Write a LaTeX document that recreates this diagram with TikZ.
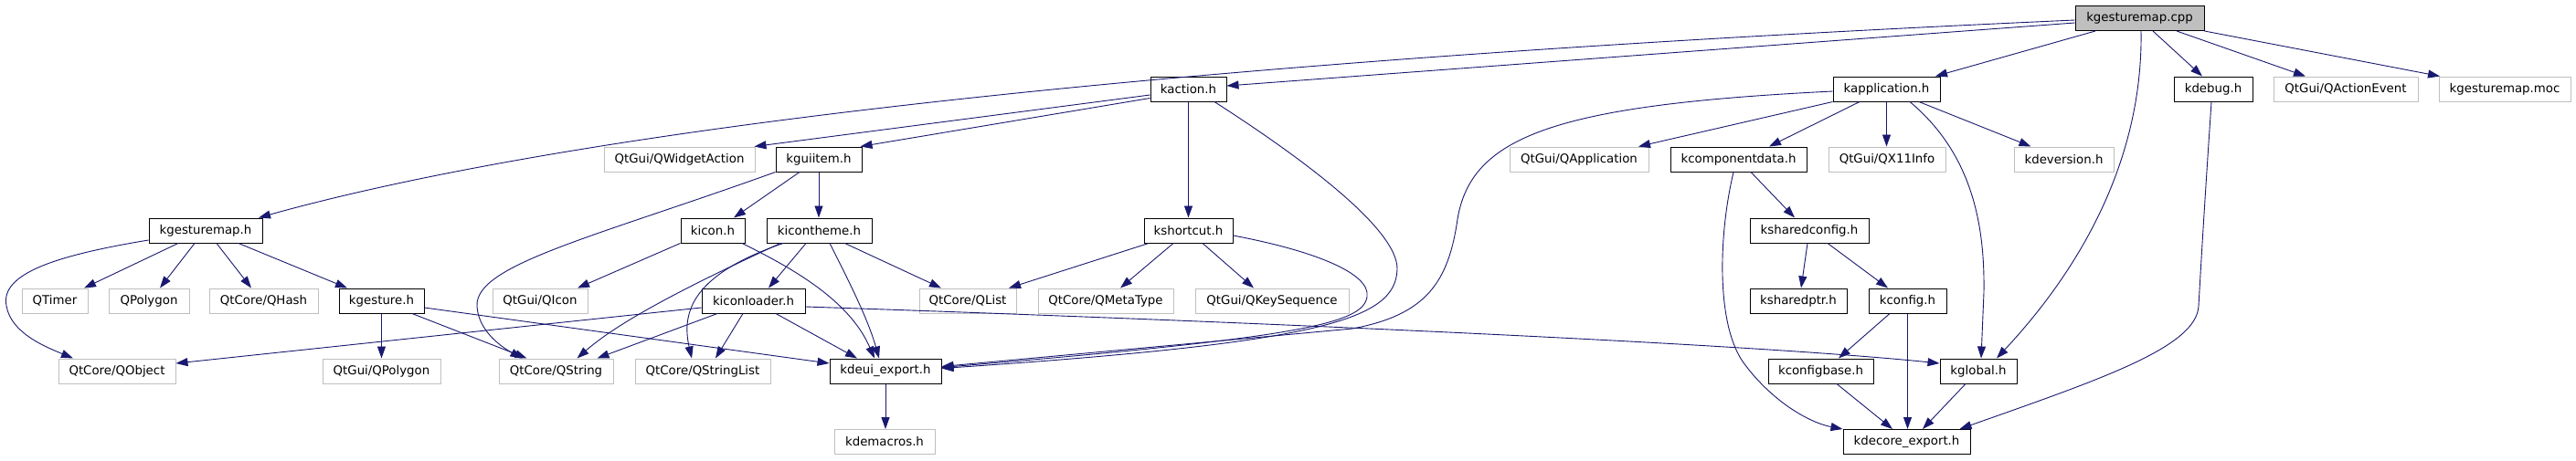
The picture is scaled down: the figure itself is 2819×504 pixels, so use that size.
\documentclass[tikz,border=0pt]{standalone}
\usepackage{fontspec}
\setmainfont{DejaVu Sans}
\usetikzlibrary{arrows.meta}
\definecolor{edgec}{HTML}{191970}
\definecolor{grayb}{HTML}{BFBFBF}
\begin{document}
\begin{tikzpicture}[x=1pt,y=-1pt,
  every node/.style={font=\fontsize{13.33pt}{16pt}\selectfont, inner sep=0pt, minimum height=27pt, anchor=center},
  hbox/.style={draw=black, line width=1pt, fill=white},
  extbox/.style={draw=grayb, line width=1pt, fill=white},
  rootbox/.style={draw=black, line width=1pt, fill=grayb},
  dep/.style={draw=edgec, line width=0.9pt, -{Triangle[length=13pt,width=9pt]}}]
\fill[white] (0,0) rectangle (2819,504);
\useasboundingbox (0,0) rectangle (2819,504);
% row 0
\node[rootbox, minimum width=141pt] (cpp) at (2341.5,20) {kgesturemap.cpp};
% row 1
\node[hbox, minimum width=83pt] (kaction) at (1300.5,97.5) {kaction.h};
\node[hbox, minimum width=117pt] (kapplication) at (2064.5,97.5) {kapplication.h};
\node[hbox, minimum width=86pt] (kdebug) at (2422,97.5) {kdebug.h};
\node[extbox, minimum width=158pt] (qae) at (2567,97.5) {QtGui/QActionEvent};
\node[extbox, minimum width=144pt] (moc) at (2741,97.5) {kgesturemap.moc};
% row 2
\node[extbox, minimum width=165pt] (qwa) at (743.5,174.5) {QtGui/QWidgetAction};
\node[hbox, minimum width=94pt] (kguiitem) at (896,174.5) {kguiitem.h};
\node[extbox, minimum width=152pt] (qapp) at (1728,174.5) {QtGui/QApplication};
\node[hbox, minimum width=149pt] (kcd) at (1902.5,174.5) {kcomponentdata.h};
\node[extbox, minimum width=128pt] (qx11) at (2065,174.5) {QtGui/QX11Info};
\node[extbox, minimum width=109pt] (kdeversion) at (2258.5,174.5) {kdeversion.h};
% row 3
\node[hbox, minimum width=124pt] (kgh) at (225,252.5) {kgesturemap.h};
\node[hbox, minimum width=70pt] (kicon) at (780,252.5) {kicon.h};
\node[hbox, minimum width=115pt] (kicontheme) at (896.5,252.5) {kicontheme.h};
\node[hbox, minimum width=97pt] (kshortcut) at (1300.5,252.5) {kshortcut.h};
\node[hbox, minimum width=130pt] (ksc) at (1980,252.5) {ksharedconfig.h};
% row 4
\node[extbox, minimum width=72pt] (qtimer) at (60,329.5) {QTimer};
\node[extbox, minimum width=88pt] (qpolygon) at (163,329.5) {QPolygon};
\node[extbox, minimum width=119pt] (qhash) at (288.5,329.5) {QtCore/QHash};
\node[hbox, minimum width=93pt] (kgesture) at (417.5,329.5) {kgesture.h};
\node[extbox, minimum width=104pt] (qicon) at (591,329.5) {QtGui/QIcon};
\node[hbox, minimum width=113pt] (kiconloader) at (824.5,329.5) {kiconloader.h};
\node[extbox, minimum width=106pt] (qlist) at (1059,329.5) {QtCore/QList};
\node[extbox, minimum width=148pt] (qmetatype) at (1210,329.5) {QtCore/QMetaType};
\node[extbox, minimum width=168pt] (qkeyseq) at (1392,329.5) {QtGui/QKeySequence};
\node[hbox, minimum width=106pt] (ksp) at (1968,329.5) {ksharedptr.h};
\node[hbox, minimum width=85pt] (kconfig) at (2087.5,329.5) {kconfig.h};
% row 5
\node[extbox, minimum width=128pt] (qobject) at (128,406.5) {QtCore/QObject};
\node[extbox, minimum width=129pt] (qtguipoly) at (417.5,406.5) {QtGui/QPolygon};
\node[extbox, minimum width=125pt] (qstring) at (608.5,406.5) {QtCore/QString};
\node[extbox, minimum width=148pt] (qstringlist) at (769,406.5) {QtCore/QStringList};
\node[hbox, minimum width=122pt] (kdeui) at (969,406.5) {kdeui\_export.h};
\node[hbox, minimum width=115pt] (kcb) at (1992.5,406.5) {kconfigbase.h};
\node[hbox, minimum width=84pt] (kglobal) at (2165,406.5) {kglobal.h};
% row 6
\node[extbox, minimum width=110pt] (kdemacros) at (968,484) {kdemacros.h};
\node[hbox, minimum width=139pt] (kdecore) at (2086.5,484) {kdecore\_export.h};

% edges from kgesturemap.cpp
\draw[dep] ([yshift=-2pt]cpp.west) .. controls (1200,70) and (600,150) .. ([xshift=58pt]kgh.north);
\draw[dep] ([yshift=-5pt]cpp.west) -- ([yshift=3.5pt]kaction.east);
\draw[dep] ([xshift=-48.5pt]cpp.south) -- ([xshift=53.5pt]kapplication.north);
\draw[dep] ([xshift=1.5pt]cpp.south) .. controls (2345,160) and (2290,280) .. ([xshift=20pt]kglobal.north);
\draw[dep] ([xshift=14.5pt]cpp.south) -- ([xshift=-12pt]kdebug.north);
\draw[dep] ([xshift=40.5pt]cpp.south) -- ([xshift=-44pt]qae.north);
\draw[dep] (cpp.south east) -- ([xshift=-71pt]moc.north);
% kaction.h
\draw[dep] ([yshift=-6.5pt]kaction.west) -- ([xshift=82pt]qwa.north);
\draw[dep] ([yshift=-10pt]kaction.west) -- ([xshift=-2pt]kguiitem.north east);
\draw[dep] (kaction.south) -- (kshortcut.north);
\draw[dep] ([xshift=28.5pt]kaction.south) .. controls (1420,170) and (1530,250) .. (1529,295)
   .. controls (1527,350) and (1450,375) .. ([yshift=3pt]kdeui.east);
% kshortcut.h
\draw[dep] ([yshift=-5.5pt]kshortcut.east) .. controls (1440,275) and (1500,300) .. (1496,325)
   .. controls (1492,355) and (1420,370) .. ([yshift=4pt]kdeui.east);
\draw[dep] ([xshift=-43.5pt]kshortcut.south) -- ([xshift=45pt]qlist.north);
\draw[dep] ([xshift=-16.5pt]kshortcut.south) -- ([xshift=16pt]qmetatype.north);
\draw[dep] ([xshift=15.5pt]kshortcut.south) -- ([xshift=-20pt]qkeyseq.north);
% kapplication.h
\draw[dep] ([yshift=-2.5pt]kapplication.west) .. controls (1700,115) and (1610,150) .. (1595,240)
   .. controls (1585,310) and (1560,345) .. (1480,360) -- ([yshift=5pt]kdeui.east);
\draw[dep] (kapplication.south west) -- ([xshift=65pt]qapp.north);
\draw[dep] ([xshift=-29.5pt]kapplication.south) -- ([xshift=33.5pt]kcd.north);
\draw[dep] (kapplication.south) -- (kapplication.south |- qx11.north);
\draw[dep] ([xshift=25.5pt]kapplication.south) .. controls (2160,170) and (2172,250) .. (2171,320) -- ([xshift=3pt]kglobal.north);
\draw[dep] ([xshift=35.5pt]kapplication.south) -- ([xshift=-36pt]kdeversion.north);
% kguiitem.h
\draw[dep] ([xshift=-21pt]kguiitem.south) -- ([xshift=23pt]kicon.north);
\draw[dep] (kguiitem.south) -- (kguiitem.south |- kicontheme.north);
\draw[dep] (kguiitem.south west) .. controls (650,260) and (520,290) .. (522,335)
   .. controls (523,360) and (545,378) .. ([xshift=-37pt]qstring.north);
% kicon.h
\draw[dep] (kicon.south west) -- ([xshift=41pt]qicon.north);
\draw[dep] ([xshift=32pt]kicon.south) .. controls (870,295) and (930,330) .. ([xshift=-12pt]kdeui.north);
% kicontheme.h
\draw[dep] ([xshift=-14.5pt]kicontheme.south) -- ([xshift=16.5pt]kiconloader.north);
\draw[dep] ([xshift=28pt]kicontheme.south) -- ([xshift=-29pt]qlist.north);
\draw[dep] ([xshift=11.5pt]kicontheme.south) .. controls (930,310) and (950,350) .. ([xshift=-7pt]kdeui.north);
\draw[dep] ([xshift=-42.5pt]kicontheme.south) .. controls (760,310) and (680,350) .. ([xshift=23pt]qstring.north);
\draw[dep] ([xshift=-39.5pt]kicontheme.south) .. controls (760,300) and (745,340) .. ([xshift=-12pt]qstringlist.north);
% kiconloader.h
\draw[dep] ([yshift=-7.5pt]kiconloader.west) -- ([yshift=8.5pt]qobject.east);
\draw[dep] ([xshift=-39.5pt]kiconloader.south) -- ([xshift=45pt]qstring.north);
\draw[dep] ([xshift=-11.5pt]kiconloader.south) -- ([xshift=14pt]qstringlist.north);
\draw[dep] ([xshift=24.5pt]kiconloader.south) -- ([xshift=-31pt]kdeui.north);
\draw[dep] ([yshift=-6.5pt]kiconloader.east) .. controls (1300,350) and (1900,375) .. ([yshift=8.5pt]kglobal.west);
% kgesturemap.h
\draw[dep] ([xshift=-30pt]kgh.south) -- ([xshift=32pt]qtimer.north);
\draw[dep] ([xshift=-12pt]kgh.south) -- ([xshift=12pt]qpolygon.north);
\draw[dep] ([xshift=12pt]kgh.south) -- ([xshift=-13.5pt]qhash.north);
\draw[dep] ([xshift=36pt]kgh.south) -- ([xshift=-37.5pt]kgesture.north);
\draw[dep] ([yshift=-10.5pt]kgh.west) .. controls (60,280) and (0,300) .. (7,335)
   .. controls (12,365) and (50,380) .. ([xshift=-48pt]qobject.north);
% kgesture.h
\draw[dep] (kgesture.south) -- (qtguipoly.north);
\draw[dep] ([xshift=33.5pt]kgesture.south) -- ([xshift=-32pt]qstring.north);
\draw[dep] ([yshift=-7.5pt]kgesture.east) -- ([yshift=8.5pt]kdeui.west);
% kdeui_export.h
\draw[dep] (kdeui.south) -- (kdeui.south |- kdemacros.north);
% kcomponentdata.h
\draw[dep] ([xshift=13.5pt]kcd.south) -- ([xshift=-16pt]ksc.north);
\draw[dep] ([xshift=-5.5pt]kcd.south) .. controls (1880,260) and (1878,360) .. (1910,400)
   .. controls (1940,440) and (1980,463) .. (kdecore.north west);
% ksharedconfig.h
\draw[dep] ([xshift=-2pt]ksc.south) -- ([xshift=3pt]ksp.north);
\draw[dep] ([xshift=20pt]ksc.south) -- ([xshift=-21.5pt]kconfig.north);
% kconfig.h
\draw[dep] ([xshift=-19.5pt]kconfig.south) -- ([xshift=19.5pt]kcb.north);
\draw[dep] (kconfig.south) -- (kconfig.south |- kdecore.north);
% kconfigbase.h, kglobal.h
\draw[dep] ([xshift=17.5pt]kcb.south) -- ([xshift=-15.5pt]kdecore.north);
\draw[dep] ([xshift=-14pt]kglobal.south) -- ([xshift=17.5pt]kdecore.north);
% kdebug.h
\draw[dep] ([xshift=-2pt]kdebug.south) .. controls (2412,230) and (2408,300) .. (2406,335)
   .. controls (2404,380) and (2300,415) .. ([xshift=-12pt]kdecore.north east);
\end{tikzpicture}
\end{document}
